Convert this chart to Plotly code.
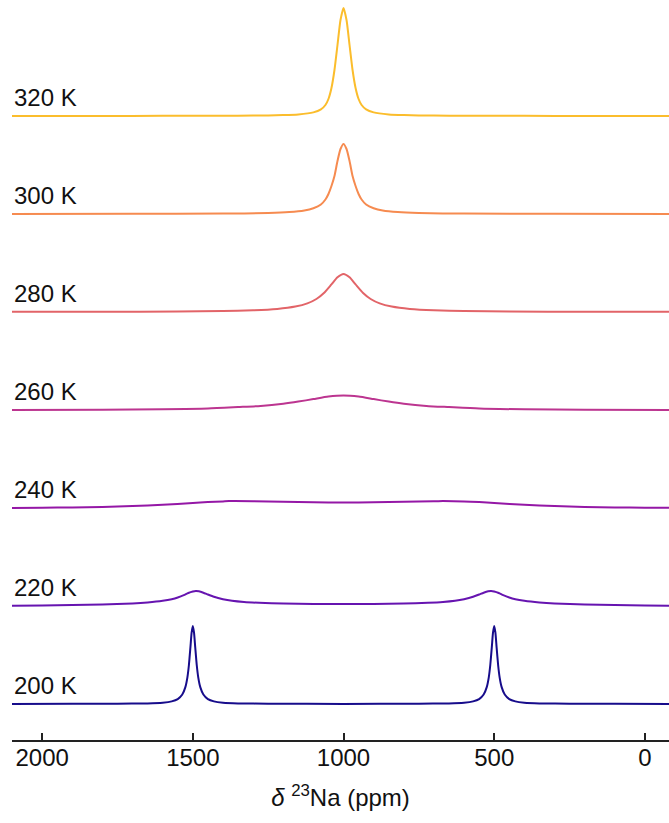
import plotly.graph_objects as go

# Temperatures (bottom to top)
temps = ["200 K", "220 K", "240 K", "260 K", "280 K", "300 K", "320 K"]
colors = ["#170c8b", "#6614b0", "#9417a6", "#bc3590", "#e26468", "#f68b50", "#fbbd2c"]

# Spectra: chemical shift (ppm) and intensity (a.u.)
t200_ppm = [2100, 1900, 1750, 1650, 1600, 1570, 1550, 1535, 1525, 1518, 1513, 1508, 1504, 1500, 1496, 1492,
            1487, 1482, 1475, 1465, 1450, 1430, 1400, 1350, 1250, 1000, 750, 650, 600, 570, 550, 535, 525,
            518, 513, 508, 504, 500, 496, 492, 487, 482, 475, 465, 450, 430, 400, 350, 250, 100, -80]
t200_int = [0.08, 0.15, 0.28, 0.6, 1.3, 2.6, 4.9, 9.5, 16.6, 26.7, 39, 56.6, 71.3, 78, 71.3, 56.6,
            39, 26.7, 16.6, 9.5, 4.9, 2.6, 1.3, 0.6, 0.28, 0.1, 0.28, 0.6, 1.3, 2.6, 4.9, 9.5, 16.6,
            26.7, 39, 56.6, 71.3, 78, 71.3, 56.6, 39, 26.7, 16.6, 9.5, 4.9, 2.6, 1.3, 0.6, 0.28, 0.15, 0.08]

t220_ppm = [2100, 2000, 1900, 1800, 1700, 1650, 1600, 1570, 1550, 1530, 1515, 1500, 1490, 1480, 1465, 1450,
            1430, 1400, 1370, 1330, 1280, 1200, 1100, 1000, 900, 800, 720, 670, 630, 600, 570, 550, 535,
            520, 510, 500, 485, 470, 450, 430, 400, 350, 300, 200, 100, 0, -80]
t220_int = [0.2, 0.5, 0.9, 1.5, 2.6, 3.6, 5.2, 6.8, 8.5, 10.8, 13, 14.5, 15, 14.7, 13.3, 11.5,
            9.2, 6.8, 5.2, 4.0, 3.2, 2.5, 2.1, 2.0, 2.1, 2.5, 3.2, 4.0, 5.2, 6.8, 9.2, 11.5, 13.3,
            14.7, 15, 14.5, 13, 10.8, 8.5, 6.8, 5.2, 3.6, 2.6, 1.5, 0.9, 0.5, 0.3]

t240_ppm = [2100, 2000, 1900, 1800, 1700, 1600, 1500, 1450, 1400, 1380, 1300, 1200, 1100, 1000,
            900, 800, 700, 670, 600, 550, 500, 400, 300, 200, 100, 0, -80]
t240_int = [0.1, 0.3, 0.6, 1.1, 2.0, 3.3, 4.9, 5.9, 6.6, 6.9, 6.8, 6.2, 5.7, 5.5,
            5.7, 6.2, 6.8, 6.9, 6.6, 5.9, 4.9, 3.3, 2.0, 1.1, 0.6, 0.3, 0.2]

t260_ppm = [2100, 1800, 1600, 1450, 1350, 1275, 1200, 1150, 1100, 1050, 1000, 950, 900, 850, 800,
            725, 650, 550, 400, 200, -80]
t260_int = [0.1, 0.35, 0.7, 1.4, 2.9, 4.1, 6.3, 8.4, 10.9, 13.4, 14.5, 13.4, 10.9, 8.4, 6.3,
            4.1, 2.9, 1.4, 0.7, 0.35, 0.1]

t280_ppm = [2100, 1800, 1550, 1400, 1300, 1220, 1160, 1120, 1090, 1065, 1040, 1020, 1000, 980, 960,
            935, 910, 880, 840, 780, 700, 600, 450, 200, -80]
t280_int = [0.13, 0.25, 0.52, 0.98, 1.7, 3.05, 5.4, 8.6, 13, 19, 27.6, 34.7, 38, 34.7, 27.6,
            19, 13, 8.6, 5.4, 3.05, 1.7, 0.98, 0.52, 0.25, 0.13]

t300_ppm = [2100, 1700, 1400, 1250, 1180, 1130, 1100, 1075, 1060, 1050, 1040, 1030, 1020, 1010, 1000,
            990, 980, 970, 960, 950, 940, 925, 900, 870, 820, 750, 600, 300, -80]
t300_int = [0.0, 0.15, 0.4, 1.0, 1.9, 3.5, 5.8, 9.5, 14.5, 20, 28, 38, 53, 65, 70,
            65, 53, 38, 28, 20, 14.5, 9.5, 5.8, 3.5, 1.9, 1.0, 0.4, 0.15, 0.0]

t320_ppm = [2100, 1800, 1600, 1500, 1400, 1300, 1250, 1200, 1150, 1100, 1075, 1060, 1050, 1040, 1030,
            1020, 1010, 1000, 990, 980, 970, 960, 950, 940, 925, 900, 850, 800, 750, 700, 600, 500,
            400, 200, -80]
t320_int = [0.0, 0.1, 0.15, 0.2, 0.3, 0.45, 0.6, 0.9, 1.6, 3.6, 6.6, 11, 17, 28, 46,
            71, 96, 108, 96, 71, 46, 28, 17, 11, 6.6, 3.6, 1.6, 0.9, 0.6, 0.45, 0.3, 0.2,
            0.15, 0.1, 0.0]

spectra = [(t200_ppm, t200_int), (t220_ppm, t220_int), (t240_ppm, t240_int), (t260_ppm, t260_int),
           (t280_ppm, t280_int), (t300_ppm, t300_int), (t320_ppm, t320_int)]

x_ticks = [2000, 1500, 1000, 500, 0]
x_tick_labels = ["2000", "1500", "1000", "500", "0"]

BASE = 36
STEP = 98
FONT = "Liberation Sans, Arial, sans-serif"

fig = go.Figure()
annotations = []
for i, ((ppm, inten), name, col) in enumerate(zip(spectra, temps, colors)):
    off = BASE + STEP * i
    fig.add_trace(go.Scatter(
        x=ppm, y=[v + off for v in inten], mode="lines", name=name,
        line=dict(color=col, width=2, shape="spline", smoothing=0.6),
        hoverinfo="skip", showlegend=False))
    annotations.append(dict(
        x=0, xref="paper", xanchor="left", xshift=0,
        y=off + 3, yref="y", yanchor="bottom",
        text=name, showarrow=False,
        font=dict(family=FONT, size=24, color="#111")))

fig.update_layout(
    width=669, height=823,
    margin=dict(l=12, r=0, t=0, b=83),
    paper_bgcolor="white", plot_bgcolor="white",
    annotations=annotations,
    font=dict(family=FONT, size=24, color="#111"),
    xaxis=dict(
        range=[2100, -80], tickvals=x_ticks, ticktext=x_tick_labels,
        ticks="inside", ticklen=7, tickwidth=1.5, tickcolor="#222",
        showline=True, linecolor="#222", linewidth=1.5,
        showgrid=False, zeroline=False, automargin=False,
        ticklabelstandoff=-5,
        tickfont=dict(family=FONT, size=24, color="#111"),
        title=dict(text="<i>δ</i> <sup>23</sup>Na (ppm)",
                   font=dict(family=FONT, size=24, color="#111"), standoff=20),
    ),
    yaxis=dict(range=[0, 740], visible=False, showgrid=False, zeroline=False),
)

fig.write_html("out.html", config={"displayModeBar": False},
               post_script="document.body.style.margin='0';")
